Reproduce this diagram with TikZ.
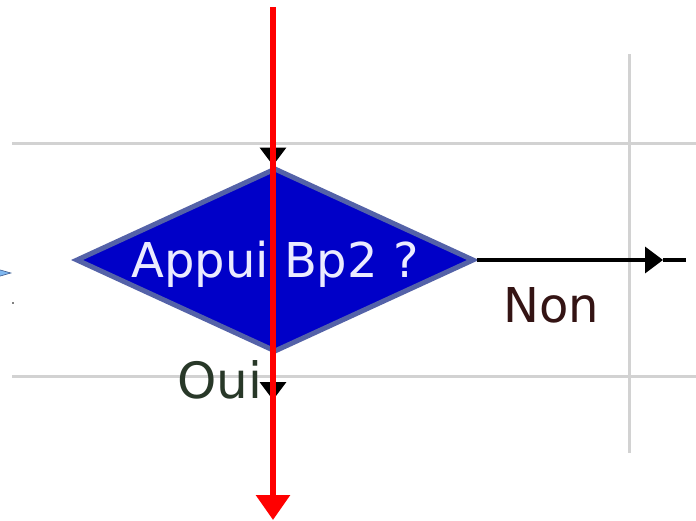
\documentclass[tikz,border=0pt]{standalone}
\usepackage{fontspec}
\setmainfont{DejaVu Sans}
\usetikzlibrary{shapes.geometric}
\usetikzlibrary{positioning,arrows.meta}

\definecolor{gridgray}{RGB}{210,210,210}
\definecolor{testblue}{RGB}{0,0,200}
\definecolor{testedge}{RGB}{84,98,168}
\definecolor{ouigreen}{RGB}{40,56,40}
\definecolor{nonred}{RGB}{52,20,20}
\definecolor{stubblue}{RGB}{128,184,240}
\definecolor{stubedge}{RGB}{60,90,140}

\begin{document}
\begin{tikzpicture}[x=1pt,y=-1pt,
    test/.style={diamond, aspect=2.163, draw=testedge, fill=testblue, line width=5pt, inner sep=0pt,
        minimum width=398pt, minimum height=184pt, text=white!92!blue,
        text height=34pt, text depth=0pt, font=\fontsize{48}{52}\selectfont},
    flow/.style={line width=3.5pt, -{Triangle[length=18pt,width=26pt]}},
    gridline/.style={draw=gridgray, line width=3pt},
    answer/.style={inner sep=0pt, anchor=base, font=\fontsize{50}{54}\selectfont},
    dot/.style={circle, fill, inner sep=0.7pt}
]
\useasboundingbox (0,0) rectangle (696,520);

% Grid lines of the chart
\foreach \y in {143,376}{
    \draw[gridline] (12,\y) -- (696,\y);
}
\draw[gridline] (629,54) -- (629,453);

% Stub of the incoming link on the left
\coordinate (stubIn) at (-30,273);
\coordinate (stubTip) at (12,273);
\draw[line width=0.6pt, draw=stubedge,
    -{Triangle[length=18pt,width=10pt,fill=stubblue]}] (stubIn) -- (stubTip);
\node[dot] (stub) at (13,303) {};

% Test block
\node[test] (test) at (275,260) {Appui Bp2 ?};

% Answers
\node[answer, text=ouigreen] (oui) at (220,398) {Oui};
\node[answer, text=nonred, font=\fontsize{48}{52}\selectfont] (non) at (551,322) {Non};

% Links into and out of the test
\coordinate (topIn) at (273,143);
\coordinate (ouiTip) at (273,400);
\coordinate (nonTip) at (663,260);
\coordinate (nonEnd) at (686,260);
\draw[flow] (topIn) -- (topIn |- test.north);
\draw[flow] (ouiTip |- test.south) -- (ouiTip);
\draw[flow] (test.east) -- (nonTip);
\draw[line width=3.5pt] (nonTip) -- (nonEnd);

% Red marker over the chart
\coordinate (redTop) at (273,7);
\coordinate (redEnd) at (273,520);
\draw[red, line width=6pt, -{Triangle[length=25pt,width=33pt]}] (redTop) -- (redEnd);

\end{tikzpicture}
\end{document}
